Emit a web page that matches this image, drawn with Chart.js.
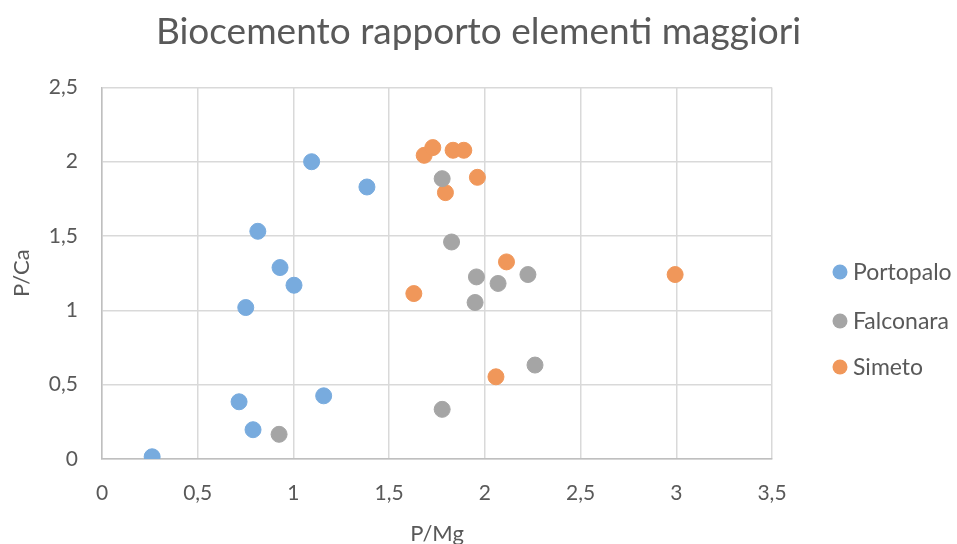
<!DOCTYPE html>
<html>
<head>
<meta charset="utf-8">
<script src="https://cdn.jsdelivr.net/npm/chart.js@4"></script>
<style>
  html, body { margin: 0; padding: 0; background: #ffffff; }
  #wrap { position: relative; width: 957px; height: 544px; }
</style>
</head>
<body>
<div id="wrap"><canvas id="c" width="957" height="544"></canvas></div>
<script>
const chartTitle = "Biocemento rapporto elementi maggiori";
const xTitle = "P/Mg";
const yTitle = "P/Ca";
const seriesNames = ["Portopalo", "Falconara", "Simeto"];
const seriesColors = ["#78ABDE", "#A5A5A5", "#F0975A"];

const portopaloX = [1.095, 1.384, 0.814, 0.930, 1.003, 0.751, 0.716, 1.158, 0.789, 0.262];
const portopaloY = [2.000, 1.830, 1.532, 1.288, 1.169, 1.019, 0.385, 0.425, 0.197, 0.015];

const falconaraX = [0.925, 1.777, 1.826, 1.956, 2.069, 2.225, 1.949, 2.262, 1.777];
const falconaraY = [0.166, 1.886, 1.460, 1.225, 1.181, 1.241, 1.053, 0.632, 0.334];

const simetoX = [1.683, 1.728, 1.834, 1.890, 1.961, 1.794, 2.113, 1.629, 2.994, 2.058];
const simetoY = [2.043, 2.095, 2.077, 2.077, 1.895, 1.792, 1.326, 1.113, 1.241, 0.553];

const xTicks = [0, 0.5, 1, 1.5, 2, 2.5, 3, 3.5];
const yTicks = [0, 0.5, 1, 1.5, 2, 2.5];

function pts(xs, ys) { return xs.map((x, i) => ({ x: x, y: ys[i] })); }
const fmt = v => String(v).replace('.', ',');

const textColor = "#595959";
const fontFam = "Lato, 'Open Sans', sans-serif";

const legendPlugin = {
  id: 'customLegend',
  afterDraw(chart) {
    const ctx = chart.ctx;
    const rows = [272, 321, 367];
    ctx.save();
    chart.data.datasets.forEach((ds, i) => {
      ctx.beginPath();
      ctx.fillStyle = ds.backgroundColor;
      ctx.arc(840, rows[i], 7.5, 0, Math.PI * 2);
      ctx.fill();
      ctx.fillStyle = textColor;
      ctx.font = "23px " + fontFam;
      ctx.textBaseline = 'middle';
      ctx.textAlign = 'left';
      ctx.fillText(ds.label, 853, rows[i] + 1);
    });
    ctx.restore();
  }
};

new Chart(document.getElementById('c'), {
  type: 'scatter',
  data: {
    datasets: [
      { label: seriesNames[0], data: pts(portopaloX, portopaloY), backgroundColor: seriesColors[0], borderColor: seriesColors[0], pointRadius: 8, pointHoverRadius: 8 },
      { label: seriesNames[1], data: pts(falconaraX, falconaraY), backgroundColor: seriesColors[1], borderColor: seriesColors[1], pointRadius: 8, pointHoverRadius: 8 },
      { label: seriesNames[2], data: pts(simetoX, simetoY), backgroundColor: seriesColors[2], borderColor: seriesColors[2], pointRadius: 8, pointHoverRadius: 8 }
    ]
  },
  options: {
    responsive: false,
    animation: false,
    events: [],
    layout: { padding: { left: 0, right: 0, top: 0, bottom: 0 } },
    plugins: {
      legend: { display: false },
      tooltip: { enabled: false },
      title: {
        display: true,
        text: chartTitle,
        color: textColor,
        font: { family: fontFam, size: 37, weight: 'normal' },
        padding: { top: 10, bottom: 33 }
      }
    },
    scales: {
      x: {
        type: 'linear',
        min: 0, max: 3.5,
        afterBuildTicks: s => { s.ticks = xTicks.map(v => ({ value: v })); },
        afterFit: s => { s.height = 85; },
        ticks: { callback: fmt, color: textColor, font: { family: fontFam, size: 21 }, padding: 22, maxRotation: 0 },
        grid: { color: '#D9D9D9', lineWidth: 1.5, drawTicks: false },
        border: { color: '#BFBFBF', width: 1.5 },
        title: { display: true, text: xTitle, color: textColor, font: { family: fontFam, size: 22 }, padding: { top: 0, bottom: -3 } }
      },
      y: {
        type: 'linear',
        min: 0, max: 2.5,
        afterBuildTicks: s => { s.ticks = yTicks.map(v => ({ value: v })); },
        afterFit: s => { s.width = 102; },
        ticks: { callback: fmt, color: textColor, font: { family: fontFam, size: 21 }, padding: 24 },
        grid: { color: '#D9D9D9', lineWidth: 1.5, drawTicks: false },
        border: { color: '#BFBFBF', width: 1.5 },
        title: { display: true, text: yTitle, color: textColor, font: { family: fontFam, size: 22 }, padding: { top: 9, bottom: 0 } }
      },
      legendSpace: {
        type: 'linear',
        position: 'right',
        display: true,
        afterFit: s => { s.width = 185; },
        ticks: { display: false },
        grid: { display: false, drawTicks: false },
        border: { display: false },
        title: { display: false }
      }
    }
  },
  plugins: [legendPlugin]
});
</script>
</body>
</html>
